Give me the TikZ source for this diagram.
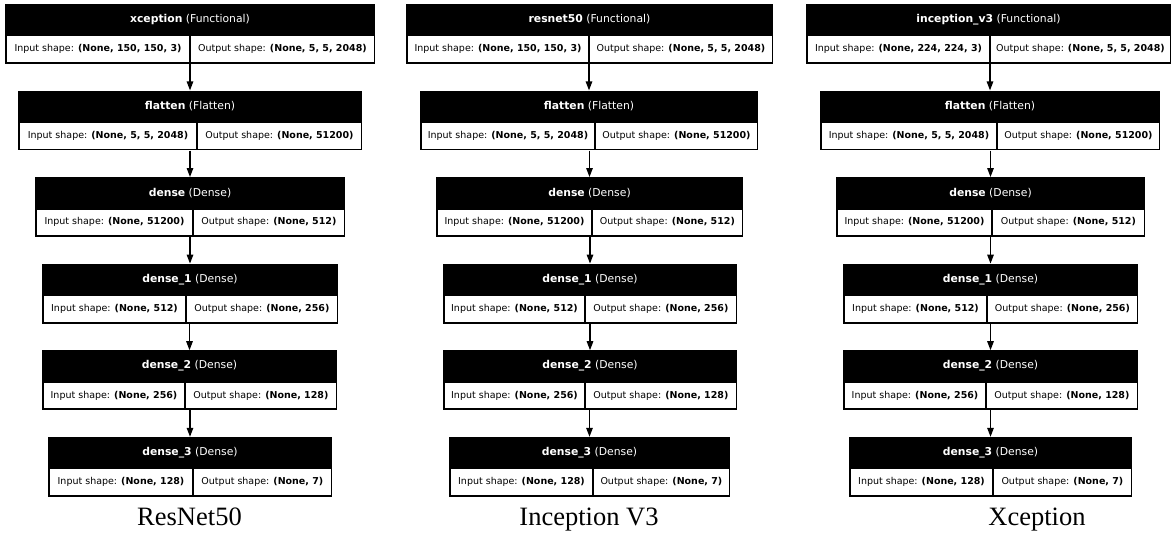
\documentclass[tikz,border=0pt]{standalone}
\usepackage{fontspec}
\setmainfont{DejaVu Sans}
\newfontfamily\capfont{Liberation Serif}
\usetikzlibrary{arrows.meta}
\tikzset{
  blockbg/.style={fill=black, draw=none, inner sep=0pt, minimum height=59.7pt},
  hdrtext/.style={text=white, inner sep=0pt, font=\fontsize{10.8}{12}\selectfont},
  cell/.style={fill=white, draw=none, inner sep=0pt, minimum height=25.7pt, font=\fontsize{9.5}{11}\selectfont, text=black},
  arr/.style={line width=1.3pt, -{Triangle[length=9pt,width=6.5pt]}},
  captxt/.style={anchor=base, inner sep=0pt, font=\capfont\fontsize{26.5}{30}\selectfont}
}
% #1 id, #2 left, #3 right, #4 divider, #5 top, #6 name, #7 type, #8 in, #9 out
\newcommand\kblock[9]{%
  \pgfmathsetmacro\kW{#3-#2}%
  \pgfmathsetmacro\kC{(#2+#3)/2}%
  \node[blockbg, minimum width=\kW pt, anchor=north] (#1) at (\kC,#5) {};
  \node[hdrtext] (#1-h) at (\kC,#5+15.8) {\textbf{#6} (#7)};
  \pgfmathsetmacro\kLW{#4-1-#2-1.6}%
  \node[cell, minimum width=\kLW pt, anchor=north west] (#1-i) at (#2+1.6,#5+32.3) {Input shape: \textbf{#8}};
  \pgfmathsetmacro\kRW{#3-1.6-#4-1}%
  \node[cell, minimum width=\kRW pt, anchor=north west] (#1-o) at (#4+1,#5+32.3) {Output shape: \textbf{#9}};
}
\begin{document}
\begin{tikzpicture}[x=1pt,y=-1pt]
\useasboundingbox[fill=white] (0,0) rectangle (1172,533);
% tops
\def\tA{3.8}\def\tB{90.4}\def\tC{177.0}\def\tD{263.6}\def\tE{350.2}\def\tF{436.8}
% column 1
\kblock{a1}{5}{375}{190}{\tA}{xception}{Functional}{(None, 150, 150, 3)}{(None, 5, 5, 2048)}
\kblock{a2}{18}{362}{197}{\tB}{flatten}{Flatten}{(None, 5, 5, 2048)}{(None, 51200)}
\kblock{a3}{35}{345}{193}{\tC}{dense}{Dense}{(None, 51200)}{(None, 512)}
\kblock{a4}{42}{338}{186}{\tD}{dense\_1}{Dense}{(None, 512)}{(None, 256)}
\kblock{a5}{42}{337}{185}{\tE}{dense\_2}{Dense}{(None, 256)}{(None, 128)}
\kblock{a6}{48}{332}{193}{\tF}{dense\_3}{Dense}{(None, 128)}{(None, 7)}
% column 2
\kblock{b1}{406}{773}{589}{\tA}{resnet50}{Functional}{(None, 150, 150, 3)}{(None, 5, 5, 2048)}
\kblock{b2}{420}{758}{595}{\tB}{flatten}{Flatten}{(None, 5, 5, 2048)}{(None, 51200)}
\kblock{b3}{436}{743}{592}{\tC}{dense}{Dense}{(None, 51200)}{(None, 512)}
\kblock{b4}{443}{737}{585}{\tD}{dense\_1}{Dense}{(None, 512)}{(None, 256)}
\kblock{b5}{443}{737}{585}{\tE}{dense\_2}{Dense}{(None, 256)}{(None, 128)}
\kblock{b6}{449}{730}{593}{\tF}{dense\_3}{Dense}{(None, 128)}{(None, 7)}
% column 3
\kblock{c1}{806}{1171}{990}{\tA}{inception\_v3}{Functional}{(None, 224, 224, 3)}{(None, 5, 5, 2048)}
\kblock{c2}{820}{1160}{997}{\tB}{flatten}{Flatten}{(None, 5, 5, 2048)}{(None, 51200)}
\kblock{c3}{836}{1145}{992}{\tC}{dense}{Dense}{(None, 51200)}{(None, 512)}
\kblock{c4}{843}{1138}{987}{\tD}{dense\_1}{Dense}{(None, 512)}{(None, 256)}
\kblock{c5}{843}{1138}{986}{\tE}{dense\_2}{Dense}{(None, 256)}{(None, 128)}
\kblock{c6}{849}{1132}{993}{\tF}{dense\_3}{Dense}{(None, 128)}{(None, 7)}
% arrows
\foreach \c in {a,b,c}{
  \foreach \i/\j in {1/2,2/3,3/4,4/5,5/6}{
    \draw[arr] (\c\i.south -| \c\j.north) -- (\c\j.north);
  }
}
% captions
\node[captxt] (capA) at (189.5,525.5) {ResNet50};
\node[captxt] (capB) at (589,525.5) {Inception V3};
\node[captxt] (capC) at (1037,525.5) {Xception};
\end{tikzpicture}
\end{document}
